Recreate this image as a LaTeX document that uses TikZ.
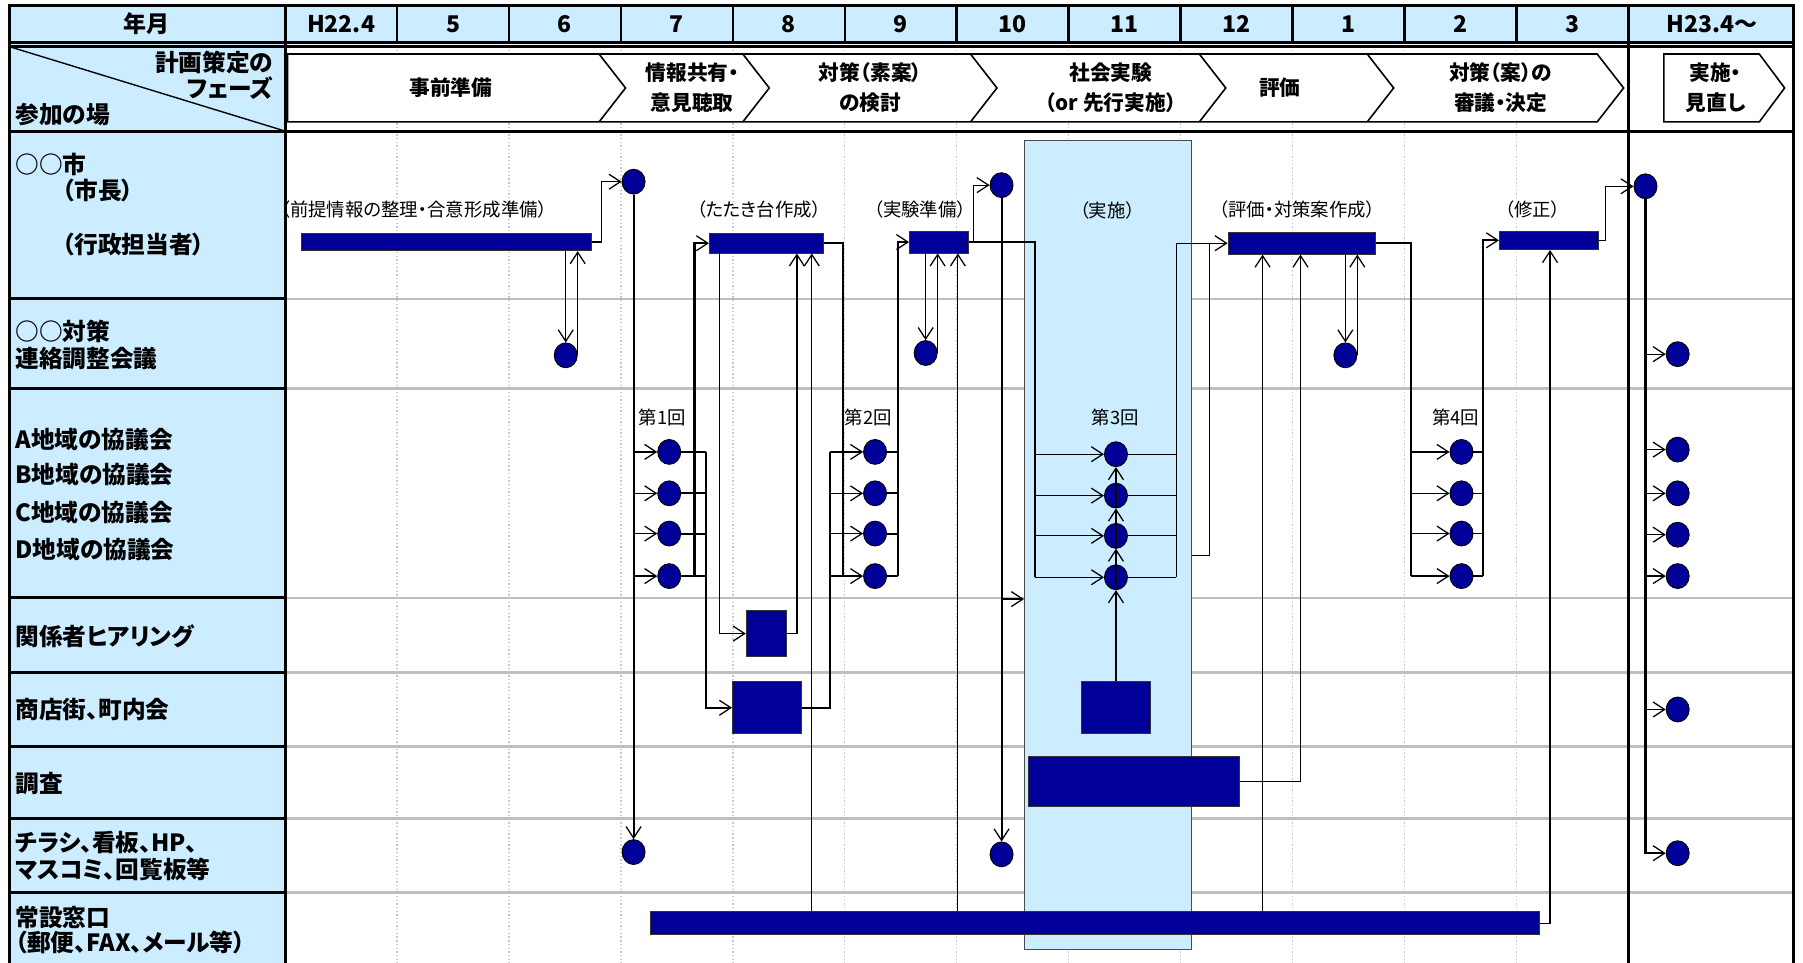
\documentclass[tikz,border=0pt]{standalone}
\usepackage{fontspec}
\setmainfont{Noto Sans CJK JP}[RawFeature=+palt]
\usetikzlibrary{arrows.meta,shapes.geometric,calc}
\definecolor{navy}{RGB}{0,0,153}
\definecolor{lblue}{RGB}{204,236,255}
\definecolor{gridg}{RGB}{191,191,191}
\definecolor{dotg}{RGB}{200,200,200}
\begin{document}
\begin{tikzpicture}[x=0.5pt,y=-0.5pt,
  thin/.style={line width=0.55pt},
  thk/.style={line width=0.9pt},
  arr/.style={-{Straight Barb[length=5pt,width=6.5pt,line width=0.55pt]}},
  dot/.style={ellipse,draw=black,line width=0.4pt,fill=navy,minimum width=10pt,minimum height=10.8pt,inner sep=0pt},
  bar/.style={rectangle,draw=black!80,line width=0.4pt,fill=navy,inner sep=0pt},
  colbox/.style={rectangle,draw=black!70,line width=0.5pt,fill=lblue,inner sep=0pt},
  lab/.style={anchor=west,inner sep=0pt,font=\bfseries\fontsize{10.3}{12}\selectfont},
  hdr/.style={inner sep=0pt,font=\bfseries\fontsize{10}{12}\selectfont},
  ph/.style={inner sep=0pt,align=center,font=\bfseries\fontsize{9}{13}\selectfont},
  sm/.style={inner sep=0pt,font=\fontsize{8}{9}\selectfont}]
\useasboundingbox (0,0) rectangle (1568,837);
\clip (0,0) rectangle (1568,837);
% backgrounds
\fill[lblue] (8,5) rectangle (248,838);
\fill[lblue] (248,5) rectangle (1560,37);
\foreach \i in {1,...,11} \draw[dotg,line width=0.6pt,densely dotted] ({248+97.333*\i},40) -- ({248+97.333*\i},838);
\foreach \y in {260,338,520,585,649,712,776} {
  \draw[gridg,line width=1.1pt] (248,\y) -- (1560,\y);
  \draw[black,line width=1.3pt] (8,\y) -- (248,\y);}
% header dividers
\foreach \i in {1,...,11} \draw[line width=1.1pt] ({248+97.333*\i},5) -- ({248+97.333*\i},37);
% borders
\draw[line width=1.4pt] (8,838) -- (8,5) -- (1560,5) -- (1560,838);
\draw[line width=1.3pt] (8,37) -- (1560,37);
\draw[line width=1.1pt] (8,40.5) -- (1560,40.5);
\draw[line width=1.3pt] (8,114) -- (1560,114);
\draw[line width=1.3pt] (248,5) -- (248,838);
\draw[line width=1.3pt] (1416,5) -- (1416,838);
\draw[line width=0.6pt] (8,40.5) -- (248,114);
% header texts
\node[hdr] (hy) at (127,21) {年月};
\foreach \t [count=\i from 0] in {H22.4,5,6,7,8,9,10,11,12,1,2,3}
  \node[hdr] (m\i) at ({248+97.333*(\i+0.5)},21) {\t};
\node[hdr] (m12) at (1489,21) {H23.4～};
% phase label cell
\node[inner sep=0pt,anchor=east,font=\bfseries\fontsize{10.3}{12}\selectfont] (pl1) at (238,54) {計画策定の};
\node[inner sep=0pt,anchor=east,font=\bfseries\fontsize{10.3}{12}\selectfont] (pl2) at (238,77) {フェーズ};
\node[lab] (pl3) at (13,100) {参加の場};
% phase band
\draw[fill=white,line width=0.7pt] (250,47) -- (1389,47) -- (1412,76.5) -- (1389,106) -- (250,106) -- cycle;
\foreach \x in {521,646,844,1043,1189} \draw[line width=0.7pt] (\x,47) -- (\x+23,76.5) -- (\x,106);
\draw[fill=white,line width=0.7pt] (1447,47) -- (1530,47) -- (1552,76.5) -- (1530,106) -- (1447,106) -- cycle;
\node[ph] (p1) at (392,76) {事前準備};
\node[ph] (p2) at (602,76.5) {情報共有・\\意見聴取};
\node[ph] (p3) at (757,76.5) {対策（素案）\\の検討};
\node[ph] (p4) at (966,76.5) {社会実験\\（or 先行実施）};
\node[ph] (p5) at (1113,76) {評価};
\node[ph] (p6) at (1305,76.5) {対策（案）の\\審議・決定};
\node[ph] (p7) at (1492,76.5) {実施・\\見直し};
% row labels
\node[lab] (L1) at (13,143) {○○市};
\node[lab] (L2) at (54,166) {（市長）};
\node[lab] (L3) at (54,213) {（行政担当者）};
\node[lab] (L4) at (13,288) {○○対策};
\node[lab] (L5) at (13,312) {連絡調整会議};
\node[lab] (L6) at (13,382) {A地域の協議会};
\node[lab] (L7) at (13,413) {B地域の協議会};
\node[lab] (L8) at (13,446) {C地域の協議会};
\node[lab] (L9) at (13,478) {D地域の協議会};
\node[lab] (L10) at (13,553) {関係者ヒアリング};
\node[lab] (L11) at (13,617) {商店街、町内会};
\node[lab] (L12) at (13,681) {調査};
\node[lab] (L13) at (13,733) {チラシ、看板、HP、};
\node[lab] (L14) at (13,756) {マスコミ、回覧板等};
\node[lab] (L15) at (13,798) {常設窓口};
\node[lab] (L16) at (13,820) {（郵便、FAX、メール等）};
% experiment column
\node[colbox,minimum width=72.5pt,minimum height=352pt] (col) at (963.5,474) {};
% small labels
\node[sm] (s1) at (360,182) {（前提情報の整理・合意形成準備）};
\node[sm] (s2) at (660,182) {（たたき台作成）};
\node[sm] (s3) at (800,182) {（実験準備）};
\node[sm] (s4) at (963,183) {（実施）};
\node[sm] (s5) at (1128,182) {（評価・対策案作成）};
\node[sm] (s6) at (1333,182) {（修正）};
\node[sm] (k1) at (576,363) {第1回};
\node[sm] (k2) at (755,363) {第2回};
\node[sm] (k3) at (970,363) {第3回};
\node[sm] (k4) at (1266,363) {第4回};
% bars
\node[bar,minimum width=126pt,minimum height=7.5pt] (pre) at (388,210.5) {};
\node[bar,minimum width=49.5pt,minimum height=8.5pt] (tatak) at (666.5,211.5) {};
\node[bar,minimum width=25.5pt,minimum height=9.5pt] (jikken) at (816.5,210.5) {};
\node[bar,minimum width=64pt,minimum height=9.5pt] (hyoka) at (1132,211.5) {};
\node[bar,minimum width=43pt,minimum height=8pt] (shusei) at (1347,209) {};
\node[bar,minimum width=386.5pt,minimum height=10pt] (josetsu) at (952.5,803) {};
\node[bar,minimum width=92pt,minimum height=21.5pt] (chosa) at (986,679.5) {};
\node[bar,minimum width=17.5pt,minimum height=20pt] (hear) at (666.5,551) {};
\node[bar,minimum width=30pt,minimum height=22.5pt] (shoten1) at (667,615.5) {};
\node[bar,minimum width=30pt,minimum height=22.5pt] (shoten2) at (970.5,615.5) {};
% circles
\node[dot] (c1) at (551,158) {};
\node[dot] (c2) at (871,161) {};
\node[dot] (c3) at (1431,162) {};
\node[dot] (t1) at (492,309) {};
\node[dot] (t2) at (805,307) {};
\node[dot] (t3) at (1170,309) {};
\node[dot] (t4) at (1459,308) {};
\foreach \n/\y in {a/393,b/429,c/464,d/501} {
  \node[dot] (r1\n) at (582,\y) {};
  \node[dot] (r2\n) at (761,\y) {};
  \node[dot] (r4\n) at (1271,\y) {};}
\foreach \n/\y in {a/395,b/431,c/466,d/502} \node[dot] (r3\n) at (970.5,\y) {};
\foreach \n/\y in {a/391,b/429,c/465,d/501} \node[dot] (r5\n) at (1459,\y) {};
\node[dot] (s5c) at (1459,617) {};
\node[dot] (f1) at (551,741) {};
\node[dot] (f2) at (871,743) {};
\node[dot] (f5) at (1459,742) {};
% bus coordinates
\foreach \x in {604,614,626,693,706,722,733,781,833,900,1023,1052,1098,1131,1227,1290,1348} \coordinate (b\x) at (\x,0);
\coordinate (y483) at (0,483);
\coordinate (y521) at (0,521);
% ---- connectors ----
% preparation
\draw[thin,arr] (pre.east) -- ++(9,0) |- (c1.west);
\draw[thin,arr] (t1.north |- pre.south) -- (t1.north);
\draw[thin,arr] (t1.east) -- (t1.east |- pre.south);
\draw[thk,arr] (c1.south) -- (f1.north);
\foreach \n in {a,b,c,d} \draw[thin,arr] (c1.south |- r1\n) -- (r1\n.west);
% round 1
\foreach \n in {a,b,c,d} \draw[thk] (r1\n.east) -- (r1\n -| b614);
\draw[thk,arr] (r1d -| b604) |- (tatak.west);
\draw[thk,arr] (r1a -| b614) |- (shoten1.west);
\draw[thin,arr] (tatak.south -| b626) |- (hear.west);
\draw[thin,arr] (hear.east) -| (b693 |- tatak.south);
\draw[thin,arr] (josetsu.north -| b706) -- (tatak.south -| b706);
% round 2
\draw[thk] (shoten1.east) -| (b722 |- r2a);
\draw[thk] (tatak.east) -| (b733 |- r2d);
\foreach \n in {a,b,c,d} {
  \draw[thin,arr] (r2\n -| b722) -- (r2\n.west);
  \draw[thk] (r2\n.east) -- (r2\n -| b781);}
\draw[thk,arr] (r2d -| b781) |- (jikken.west);
\draw[thin,arr] (jikken.south -| t2.north) -- (t2.north);
\draw[thin,arr] (t2.east) -- (t2.east |- jikken.south);
\draw[thin,arr] (josetsu.north -| b833) -- (jikken.south -| b833);
\draw[thin,arr] (jikken.east) -- ++(4,0) |- (c2.west);
\draw[thk,arr] (c2.south) -- (f2.north);
\draw[thin,arr] (c2.south |- y521) -- (col.west |- y521);
% round 3
\draw[thin] (jikken.east) -| (b900 |- r3d);
\foreach \n in {a,b,c,d} {
  \draw[thin,arr] (r3\n -| b900) -- (r3\n.west);
  \draw[thin] (r3\n.east) -- (r3\n -| b1023);}
\draw[thk,arr] (shoten2.north) -- (r3d.south);
\draw[thk,arr] (r3d.south) -- (r3c.south);
\draw[thk,arr] (r3c.south) -- (r3b.south);
\draw[thk,arr] (r3b.south) -- (r3a.south);
\draw[thin,arr] (r3d -| b1023) |- (hyoka.west);
\draw[thin] (col.east |- y483) -| (hyoka.west -| b1052);
% evaluation
\draw[thin,arr] (chosa.east) -| (b1131 |- hyoka.south);
\draw[thin,arr] (josetsu.north -| b1098) -- (hyoka.south -| b1098);
\draw[thin,arr] (hyoka.south -| t3.north) -- (t3.north);
\draw[thin,arr] (t3.east) -- (t3.east |- hyoka.south);
% round 4
\draw[thk] (hyoka.east) -| (b1227 |- r4d);
\foreach \n in {a,b,c,d} {
  \draw[thin,arr] (r4\n -| b1227) -- (r4\n.west);
  \draw[thin] (r4\n.east) -- (r4\n -| b1290);}
\draw[thk,arr] (r4d -| b1290) |- (shusei.west);
\draw[thin,arr] (josetsu.east) -| (b1348 |- shusei.south);
\draw[thin,arr] (shusei.east) -- ++(6,0) |- (c3.west);
% H23
\draw[thk,arr] (c3.south) |- (f5.west);
\foreach \n in {t4,r5a,r5b,r5c,r5d,s5c} \draw[thin,arr] (c3.south |- \n) -- (\n.west);
\end{tikzpicture}
\end{document}
